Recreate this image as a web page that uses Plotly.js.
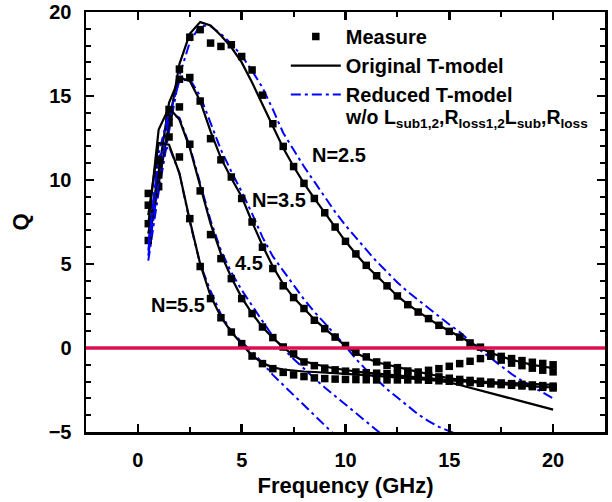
<!DOCTYPE html>
<html>
<head>
<meta charset="utf-8">
<script src="https://cdn.plot.ly/plotly-3.0.1.min.js"></script>
<style>html,body{margin:0;padding:0;background:#fff;}#chart{width:612px;height:502px;}</style>
</head>
<body>
<div id="chart"></div>
<script>
// Frequency grid of the measurement / model points (GHz)
const freq = [0.5,1,1.5,2,2.5,3,3.5,4,4.5,5,5.5,6,6.5,7,7.5,8,8.5,9,9.5,10,
              10.5,11,11.5,12,12.5,13,13.5,14,14.5,15,15.5,16,16.5,17,17.5,18,18.5,19,19.5,20];

// N = 2.5
const meas25 = [6.4,9.6,13.4,16.6,18.5,18.95,18.15,17.95,18.05,17.35,16.55,15.05,13.35,12.0,10.8,9.8,8.9,8.05,7.2,6.35,
                5.6,4.92,4.3,3.7,3.1,2.58,2.14,1.75,1.35,0.99,0.65,0.3,0.05,-0.33,-0.5,-0.63,-0.75,-0.85,-0.92,-1.0];
const orig25 = [6.2,9.8,13.4,16.9,18.7,19.4,19.2,18.6,17.9,17.0,15.8,14.5,13.1,11.9,10.8,9.8,8.9,8.05,7.2,6.35,
                5.6,4.9,4.3,3.7,3.1,2.6,2.15,1.75,1.35,1.0,0.65,0.3,0.0,-0.3,-0.52,-0.7,-0.85,-1.0,-1.1,-1.2];
const red25  = [5.2,9.3,12.9,16.2,18.2,19.2,19.15,18.7,18.1,17.4,16.5,15.5,14.2,12.8,11.8,10.8,9.9,9.0,8.1,7.3,
                6.55,5.85,5.15,4.5,3.9,3.35,2.85,2.35,1.85,1.4,0.95,0.4,-0.14,-0.6,-1.1,-1.55,-1.95,-2.3,-2.65,-3.0];

// N = 3.5
const meas35 = [7.4,10.3,13.8,16.0,16.1,14.7,12.46,11.2,10.18,8.9,7.5,6.0,4.73,3.7,3.0,2.35,1.65,1.15,0.65,0.15,
                -0.25,-0.53,-0.83,-1.03,-1.17,-1.37,-1.43,-1.33,-1.23,-1.09,-0.93,-0.79,-0.63,-0.49,-0.72,-0.9,-1.05,-1.2,-1.32,-1.42];
const orig35 = [6.8,10.5,14.6,16.1,15.9,14.7,12.9,11.3,10.1,9.0,7.5,6.1,4.85,3.8,3.0,2.35,1.7,1.15,0.65,0.12,
                -0.3,-0.6,-0.85,-1.0,-1.13,-1.3,-1.42,-1.55,-1.68,-1.8,-1.88,-1.95,-2.0,-2.03,-2.06,-2.09,-2.12,-2.15,-2.18,-2.2];
const red35  = [5.5,9.9,13.8,15.9,16.0,15.0,13.4,11.8,10.5,9.3,8.0,6.6,5.45,4.6,3.7,2.9,2.15,1.5,0.8,0.1,
                -0.65,-1.3,-1.9,-2.45,-2.95,-3.45,-3.95,-4.35,-4.7,-4.95,-5.2];

// N = 4.5
const meas45 = [8.5,10.9,14.2,14.35,12.13,9.35,6.75,5.32,4.13,2.94,2.05,1.25,0.62,0.06,-0.35,-0.83,-1.05,-1.2,-1.3,-1.38,
                -1.43,-1.47,-1.5,-1.52,-1.55,-1.57,-1.6,-1.65,-1.72,-1.8,-1.87,-1.93,-1.98,-2.03,-2.08,-2.12,-2.16,-2.2,-2.24,-2.27];
const orig45 = [7.3,13.0,14.3,13.6,11.9,9.6,7.4,5.6,4.2,3.0,2.05,1.25,0.6,0.05,-0.45,-0.8,-0.97,-1.1,-1.22,-1.33,
                -1.4,-1.47,-1.53,-1.58,-1.62,-1.68,-1.74,-1.8,-1.86,-1.92,-1.97,-2.02,-2.07,-2.12,-2.17,-2.2,-2.24,-2.28,-2.31,-2.35];
const red45  = [5.8,11.6,14.0,13.7,12.0,9.8,7.6,5.8,4.5,3.45,2.5,1.6,0.7,-0.05,-0.65,-1.25,-1.8,-2.35,-2.85,-3.35,
                -3.85,-4.35,-4.9,-5.4];

// N = 5.5
const meas55 = [9.2,11.2,12.56,11.37,7.7,4.85,2.94,1.8,0.95,0.26,-0.48,-0.93,-1.23,-1.45,-1.6,-1.7,-1.78,-1.82,-1.85,-1.87,
                -1.88,-1.89,-1.9,-1.9,-1.9,-1.9,-1.9,-1.92,-1.95,-1.98,-2.02,-2.06,-2.1,-2.14,-2.18,-2.22,-2.26,-2.3,-2.34,-2.38];
const orig55 = [7.9,12.2,12.1,10.4,7.6,5.0,3.1,1.85,0.95,0.25,-0.45,-0.9,-1.15,-1.28,-1.35,-1.4,-1.43,-1.46,-1.49,-1.52,
                -1.56,-1.61,-1.66,-1.7,-1.74,-1.78,-1.83,-1.9,-1.96,-2.05,-2.2,-2.37,-2.53,-2.7,-2.86,-3.02,-3.18,-3.34,-3.5,-3.67];
const red55  = [6.2,11.4,12.0,10.4,7.5,5.0,3.4,2.0,1.0,0.35,-0.2,-0.9,-1.6,-2.2,-2.8,-3.4,-4.0,-4.6,-5.2];

// Curve labels
const labelText = ['N=2.5','N=3.5','4.5','N=5.5'];
const labelX    = [8.3, 5.4, 4.6, 0.55];
const labelY    = [11.5, 8.8, 5.05, 2.55];

const legendNames = ['Measure','Original T-model','Reduced T-model'];
const legendNote = 'w/o L<sub>sub1,2</sub>,R<sub>loss1,2</sub>L<sub>sub</sub>,R<sub>loss</sub>';

const FONT = 'Liberation Sans, Arial, Helvetica, sans-serif';
const groups = [[meas25,orig25,red25],[meas35,orig35,red35],[meas45,orig45,red45],[meas55,orig55,red55]];

const traces = [];
groups.forEach((g, i) => {
  const first = i === 0;
  traces.push({x: freq.slice(0, g[2].length), y: g[2], type:'scatter', mode:'lines',
    line:{color:'#0000FF', width:2, dash:'10px,4px,3px,4px'}, name: legendNames[2],
    showlegend: first, legendrank: 3});
  traces.push({x: freq.slice(0, g[1].length), y: g[1], type:'scatter', mode:'lines',
    line:{color:'#000000', width:2.2}, name: legendNames[1], showlegend: first, legendrank: 2});
  traces.push({x: freq.slice(0, g[0].length), y: g[0], type:'scatter', mode:'markers',
    marker:{symbol:'square', size:7.5, color:'#000000'}, name: legendNames[0], showlegend: first, legendrank: 1});
});

const annotations = labelText.map((t, i) => ({
  x: labelX[i], y: labelY[i], xref:'x', yref:'y', text: t, showarrow:false,
  xanchor:'left', yanchor:'middle', font:{family:FONT, size:20, color:'#000', weight:'bold'}
}));
annotations.push({x: 0.495, y: 0.747, xref:'paper', yref:'paper', text: legendNote, showarrow:false,
  xanchor:'left', yanchor:'middle', font:{family:FONT, size:19.5, color:'#000', weight:'bold'}});

const axisCommon = {
  showline:true, linecolor:'#000', linewidth:2.5, mirror:'ticks', showgrid:false, zeroline:false,
  ticks:'inside', ticklen:8, tickwidth:2.5, tickcolor:'#000',
  tickfont:{family:FONT, size:20, color:'#000', weight:'bold'}
};

const layout = {
  width:612, height:502,
  margin:{l:86, r:7, t:12, b:70},
  paper_bgcolor:'#fff', plot_bgcolor:'#fff',
  font:{family:FONT, color:'#000'},
  xaxis: Object.assign({}, axisCommon, {
    range:[-2.5, 22.5], tick0:0, dtick:5, ticklabelstandoff:8,
    minor:{dtick:2.5, ticks:'inside', ticklen:5, tickwidth:2, tickcolor:'#000', showgrid:false},
    title:{text:'Frequency (GHz)', font:{family:FONT, size:22, color:'#000', weight:'bold'}, standoff:8}
  }),
  yaxis: Object.assign({}, axisCommon, {
    range:[-5, 20], tick0:0, dtick:5, ticklabelstandoff:8,
    minor:{dtick:1, ticks:'inside', ticklen:5, tickwidth:2, tickcolor:'#000', showgrid:false},
    title:{text:'Q', font:{family:FONT, size:22, color:'#000', weight:'bold'}, standoff:14}
  }),
  shapes:[{type:'line', xref:'paper', x0:0, x1:1, yref:'y', y0:0, y1:0,
           line:{color:'#DC0F50', width:3.5}, layer:'above'}],
  legend:{x:0.385, y:0.988, xanchor:'left', yanchor:'top', bgcolor:'rgba(0,0,0,0)',
          font:{family:FONT, size:20, color:'#000', weight:'bold'}, itemwidth:50, tracegroupgap:0},
  annotations: annotations,
  showlegend:true
};

Plotly.newPlot('chart', traces, layout, {displayModeBar:false, staticPlot:true});
</script>
</body>
</html>
